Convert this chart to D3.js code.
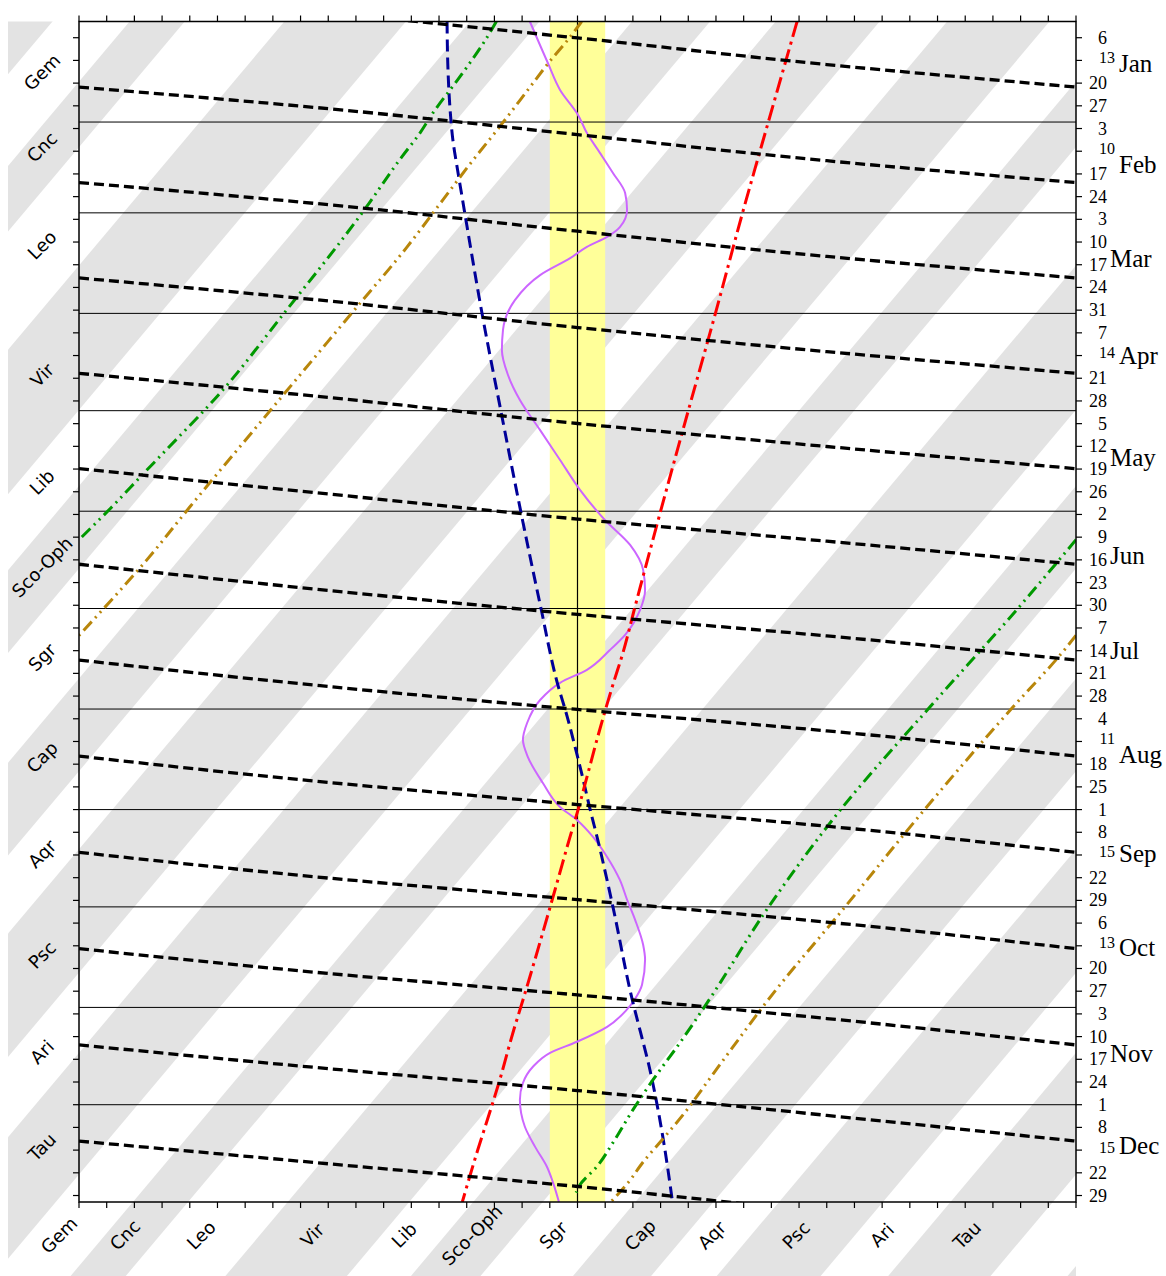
<!DOCTYPE html>
<html><head><meta charset="utf-8">
<script src="https://cdn.jsdelivr.net/npm/d3@7"></script>
<style>html,body{margin:0;padding:0;background:#fff}</style>
</head><body><svg id="c" width="1166" height="1276"></svg>
<script>
// ---------------- DATA ----------------
// constellation boundaries along the ecliptic (ecliptic longitude, deg), starting Psc/Ari
const constBounds = [29.09, 53.47, 90.43, 118.26, 138.18, 174.15, 218.04, 241.15, 266.27, 299.68, 327.87, 351.57];
const constNames  = ["Ari","Tau","Gem","Cnc","Leo","Vir","Lib","Sco-Oph","Sgr","Cap","Aqr","Psc"];
const constShaded = [false,true,false,true,false,true,false,true,false,true,false,true];
// Sun's ecliptic longitude on Jan 1 and Dec 31 (unwrapped)
const sunLonDays = [0, 364];
const sunLonVals = [280.0, 638.8];

// axis label lists
const leftLabelNames = ["Gem","Cnc","Leo","Vir","Lib","Sco-Oph","Sgr","Cap","Aqr","Psc","Ari","Tau"];
const leftLabelDays  = [15.6, 38.7, 68.9, 109.0, 142.0, 168.2, 196.0, 226.8, 256.6, 287.8, 317.7, 347.0];
const bottomLabelNames = ["Gem","Cnc","Leo","Vir","Lib","Sco-Oph","Sgr","Cap","Aqr","Psc","Ari","Tau"];
const bottomLabelElong = [-187.2, -163.4, -135.9, -95.8, -62.6, -38.1, -8.8, 22.6, 48.5, 78.9, 109.9, 140.6];

const monthStartDays = [31, 59, 90, 120, 151, 181, 212, 243, 273, 304, 334];
const monthNames = ["Jan","Feb","Mar","Apr","May","Jun","Jul","Aug","Sep","Oct","Nov","Dec"];
const monthLabelDays = [12.8, 44.2, 73.2, 103.1, 134.3, 164.8, 193.8, 226.1, 256.6, 285.6, 318.3, 346.7];
const monthAfterRaised = [true, true, false, true, false, false, false, true, true, true, false, true];

const weekTickLabels = ["6","13","20","27","3","10","17","24","3","10","17","24","31","7","14","21","28",
  "5","12","19","26","2","9","16","23","30","7","14","21","28","4","11","18","25","1","8","15","22","29",
  "6","13","20","27","3","10","17","24","1","8","15","22","29"];
const raisedTickIdx = [1, 5, 14, 31, 36, 40, 49];

// Moon phases 2019 (day index from Jan 1 0h)
const fullMoonDays  = [-9.26, 20.22, 49.66, 79.07, 108.47, 137.88, 167.35, 196.90, 226.52, 256.19, 285.88, 315.57, 345.22, 374.81];
const lastQtrDays   = [-2.60, 26.88, 56.48, 86.17, 115.93, 145.69, 175.41, 205.05, 234.62, 264.11, 293.53, 322.88, 352.21];
const newMoonDays   = [5.06, 34.88, 64.67, 94.37, 123.95, 153.42, 182.80, 212.13, 241.44, 270.77, 300.15, 329.63, 359.22];
const firstQtrDays  = [13.28, 42.93, 72.44, 101.80, 131.05, 160.25, 189.45, 218.73, 248.13, 277.70, 307.43, 337.29, 367.20];

// planets: [day, elongation deg]
const mercury = [[0,-17.2],[12.8,-10.7],[21.1,-6.3],[28.8,0.2],[34.4,3.4],[40.5,8.1],[46.7,12.8],[52.9,17.2],
  [58.1,17.9],[63.4,15.3],[66.4,10.7],[69.5,3.4],[72.9,-2.5],[78.2,-13.5],[85.9,-22.6],[95.1,-26.9],[101.3,-27.3],
  [109.0,-25.1],[116.7,-20.8],[126.0,-13.5],[135.2,-6.3],[144.4,0.9],[153.7,9.9],[161.4,19.0],[169.1,23.7],
  [175.3,24.4],[181.4,22.6],[189.1,17.2],[193.8,11.7],[199.9,3.4],[203.9,-6.3],[209.2,-13.5],[216.3,-18.2],
  [221.5,-19.7],[226.8,-17.9],[234.8,-12.5],[242.2,-6.3],[246.2,-0.2],[251.4,5.6],[257.6,10.7],[264.7,15.3],
  [270.8,17.9],[277.0,20.8],[284.7,23.7],[289.3,24.4],[297.0,23.3],[301.7,20.5],[305.0,17.5],[310.0,10.7],
  [314.6,-0.2],[318.0,-9.9],[322.3,-16.1],[327.3,-19.7],[332.5,-20.8],[340.8,-19.0],[347.0,-15.3],[353.2,-11.0],
  [358.1,-8.8],[364,-6.7]];
const venus = [[0,-47.1],[14,-46.8],[27.3,-46.0],[36.5,-45.0],[45.8,-43.3],[55,-41.5],[65.2,-39.5],[89.9,-34.5],
  [119.5,-27.8],[150.6,-20.6],[180.5,-13.3],[203.9,-7.3],[214.4,-3.7],[224.6,-0.6],[232.9,1.8],[243.1,4.6],
  [253.3,7.6],[263.7,10.4],[273,12.8],[301.7,19.8],[311.8,22.8],[322.3,25.9],[332.5,28.4],[344.9,31.0],[364,34.3]];
const mars = [[0,79.3],[31,68.9],[59,59.6],[90,49.8],[120,40.0],[151,30.0],[181,20.6],[194.7,16.4],[203.9,13.0],
  [221.5,7.0],[233,3.4],[243.1,0.2],[251.4,-2.7],[265.6,-7.4],[301.7,-19.7],[310.9,-23.0],[327.3,-28.4],
  [335.6,-31.4],[347.9,-36.0],[364,-41.6]];
const jupiterA = [[0,-29.3],[4.8,-32.6],[17.1,-42.5],[28.2,-52.2],[34.4,-56.9],[41.8,-63.5],[58.7,-77.5],[90,-106],
  [115,-129.5],[132.1,-148.5],[139.2,-156.5],[150,-168.5],[159.8,-180]];
const jupiterB = [[159.8,180],[180.5,159.5],[211.6,127.0],[242.5,95.5],[273,69.0],[301.7,47.5],[314.9,37.0],
  [326.3,27.3],[335.6,20.0],[345.7,12.8],[353.1,7.0],[358.7,0.9],[361.1,-0.5]];
const saturnA = [[0,1.5],[4.8,-2.7],[12.8,-10.5],[20.5,-17.4],[31.9,-27.6],[43.6,-38.5],[55,-48.6],[69.8,-61.8],
  [89.9,-81.5],[119.5,-110.5],[149.7,-140.0],[166,-155.5],[181.4,-171.5],[189.3,-180]];
const saturnB = [[189.3,180],[194.7,174.9],[211.6,157.0],[242.5,125.8],[273,96.6],[301.7,68.8],[316.1,56.2],
  [327.3,46.6],[335.6,39.5],[344.9,30.5],[351.9,23.5],[357.8,18.5],[364,12.0]];

// ---------------- DRAW ----------------
const svg = d3.select("#c");
const L = 79, R = 1076, T = 21.5, B = 1202;
const x = d3.scaleLinear().domain([-180, 180]).range([L, R]);
const y = d3.scaleLinear().domain([0, 364]).range([T, B]);
const sunLon = d3.scaleLinear().domain(sunLonDays).range(sunLonVals);

svg.append("rect").attr("width",1166).attr("height",1276).attr("fill","#fff");
const defs = svg.append("defs");
defs.append("clipPath").attr("id","stripeClip").append("rect")
  .attr("x",8).attr("y",T).attr("width",R-8).attr("height",1276-T);
defs.append("clipPath").attr("id","plotClip").append("rect")
  .attr("x",L).attr("y",T).attr("width",R-L).attr("height",B-T);

// stripes
const gS = svg.append("g").attr("clip-path","url(#stripeClip)");
const d0 = -40, d1 = 420;
constBounds.forEach((b, i) => {
  if (!constShaded[i]) return;
  const b2 = i + 1 < constBounds.length ? constBounds[i+1] : constBounds[0] + 360;
  for (let k = -1; k <= 2; k++) {
    const pts = [[b + 360*k - sunLon(d0), d0],[b2 + 360*k - sunLon(d0), d0],
                 [b2 + 360*k - sunLon(d1), d1],[b + 360*k - sunLon(d1), d1]];
    gS.append("path").attr("d", "M" + pts.map(p => x(p[0]) + "," + y(p[1])).join("L") + "Z")
      .attr("fill", "#e3e3e3");
  }
});

// yellow band
svg.append("rect").attr("x", x(-10)).attr("y", T).attr("width", x(10) - x(-10)).attr("height", B - T)
  .attr("fill", "#ffff99");

// month lines
svg.append("g").selectAll("line").data(monthStartDays).join("line")
  .attr("x1", L).attr("x2", R).attr("y1", d => y(d)).attr("y2", d => y(d))
  .attr("stroke", "#000").attr("stroke-width", 1);
// sun line
svg.append("line").attr("x1", x(0)).attr("x2", x(0)).attr("y1", T).attr("y2", B)
  .attr("stroke", "#000").attr("stroke-width", 1.2);

const gP = svg.append("g").attr("clip-path","url(#plotClip)");
const line = d3.line().x(p => x(p[1])).y(p => y(p[0])).curve(d3.curveMonotoneY);
function draw(data, color, w, dash) {
  gP.append("path").attr("d", line(data)).attr("fill","none").attr("stroke", color)
    .attr("stroke-width", w).attr("stroke-dasharray", dash);
}
draw(mercury, "#cc66ff", 2, null);
draw(venus, "#000099", 3, "12,6");
draw(mars, "#ff0000", 3, "16,5,3,5");
draw(jupiterA, "#009900", 3, "12,5,2,5,2,5");
draw(jupiterB, "#009900", 3, "12,5,2,5,2,5");
draw(saturnA, "#b8860b", 3, "12,5,2,5,2,5");
draw(saturnB, "#b8860b", 3, "12,5,2,5,2,5");

// moon
for (let i = 0; i < newMoonDays.length; i++) {
  const seg = [[fullMoonDays[i], -180], [lastQtrDays[i], -90], [newMoonDays[i], 0],
               [firstQtrDays[i], 90], [fullMoonDays[i+1], 180]];
  draw(seg, "#000", 3.3, "10,5");
}

// frame
svg.append("rect").attr("x", L).attr("y", T).attr("width", R - L).attr("height", B - T)
  .attr("fill", "none").attr("stroke", "#000").attr("stroke-width", 1.5);

// ticks
const xt = d3.range(-180, 181, 10);
const weekDays = d3.range(5, 365, 7);
const gT = svg.append("g").attr("stroke","#000").attr("stroke-width",1.2);
xt.forEach(v => {
  gT.append("line").attr("x1", x(v)).attr("x2", x(v)).attr("y1", T).attr("y2", T - 6);
  gT.append("line").attr("x1", x(v)).attr("x2", x(v)).attr("y1", B).attr("y2", B + 6);
});
weekDays.forEach(d => {
  gT.append("line").attr("x1", L).attr("x2", L - 6).attr("y1", y(d)).attr("y2", y(d));
  gT.append("line").attr("x1", R).attr("x2", R + 6).attr("y1", y(d)).attr("y2", y(d));
});

// right labels
const gR = svg.append("g").attr("font-family", "'Liberation Serif','Times New Roman',serif").attr("fill","#000");
weekDays.forEach((d, i) => {
  const raised = raisedTickIdx.includes(i);
  gR.append("text").attr("x", raised ? 1115 : 1107).attr("y", y(d) - (raised ? 3 : 0))
    .attr("text-anchor","end").attr("dominant-baseline","central")
    .attr("font-size", raised ? 16 : 18).text(weekTickLabels[i]);
});
monthNames.forEach((m, i) => {
  gR.append("text").attr("x", monthAfterRaised[i] ? 1119 : 1110).attr("y", y(monthLabelDays[i]))
    .attr("dominant-baseline","central").attr("font-size", 25).text(m);
});

// constellation labels
const gC = svg.append("g").attr("font-family", "'DejaVu Sans',sans-serif").attr("font-size", 18).attr("fill","#000");
leftLabelNames.forEach((n, i) => {
  const cx = 42, cy = y(leftLabelDays[i]);
  gC.append("text").attr("transform", `translate(${cx},${cy}) rotate(-45)`)
    .attr("text-anchor","middle").attr("dominant-baseline","central").text(n);
});
bottomLabelNames.forEach((n, i) => {
  const cx = x(bottomLabelElong[i]), cy = 1235;
  gC.append("text").attr("transform", `translate(${cx},${cy}) rotate(-45)`)
    .attr("text-anchor","middle").attr("dominant-baseline","central").text(n);
});
</script></body></html>
